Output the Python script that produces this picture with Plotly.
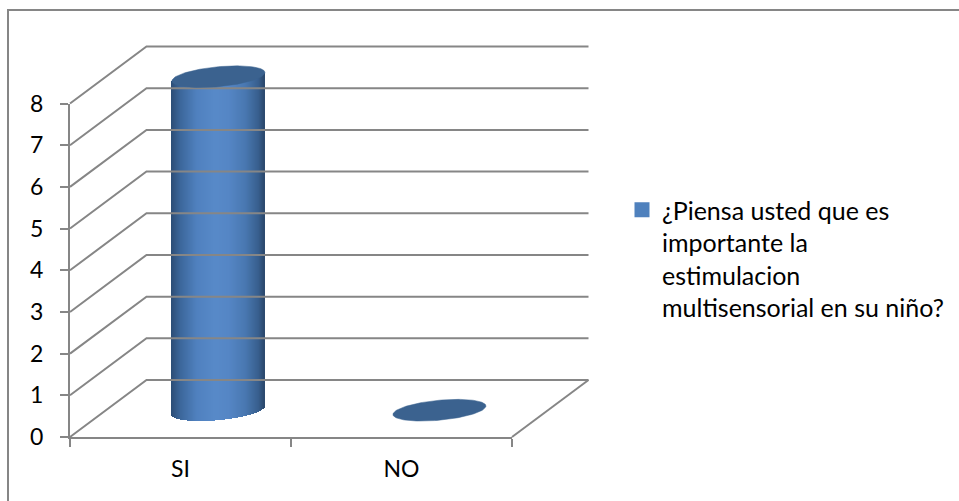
import numpy as np
import plotly.graph_objects as go

categories = ["SI", "NO"]
values = [8, 0]
y_ticks = [0, 1, 2, 3, 4, 5, 6, 7, 8]
series_name = ["¿Piensa usted que es", "importante la", "estimulacion", "multisensorial en su niño?"]

W, H = 959, 501
GRID = "#868686"
FONT = "Lato"
TEXT = "#000000"

# pixel layout of the front plane
L, R, T, B = 70, 512, 103.5, 437
ux = (R - L) / 2.0      # px per category
uy = (B - T) / 8.0      # px per value unit
depth_x = 76.5 / ux     # back-wall offset in axis units
depth_y = 57.0 / uy
col_depth = 0.47
col_dx = 0.009
half_w = 46.5 / ux
tilt = 4.2 / uy
minor = 10.0 / uy

# walls
wx, wy = [], []
for t in y_ticks:
    wx += [-0.5, -0.5 + depth_x, 1.5 + depth_x, None]
    wy += [t, t + depth_y, t + depth_y, None]
wx += [1.5, 1.5 + depth_x, None]
wy += [0, depth_y, None]

fig = go.Figure()
fig.add_trace(go.Bar(x=categories, y=values, xaxis="x", yaxis="y", marker=dict(opacity=0),
                     showlegend=False, hoverinfo="skip"))
fig.add_trace(go.Scatter(x=wx, y=wy, xaxis="x2", yaxis="y2", mode="lines",
                         line=dict(color=GRID, width=2), cliponaxis=False,
                         showlegend=False, hoverinfo="skip"))

stops_u = [-1.0, -0.8, -0.45, -0.05, 0.25, 0.6, 0.88, 1.0]
stops_r = [0x2c, 0x3c, 0x50, 0x58, 0x55, 0x49, 0x38, 0x2b]
stops_g = [0x4d, 0x67, 0x81, 0x8a, 0x86, 0x78, 0x5f, 0x48]
stops_b = [0x75, 0x9b, 0xbf, 0xc9, 0xc5, 0xb1, 0x8e, 0x6c]

t_par = np.linspace(0, 2 * np.pi, 121)
for i, v in enumerate(values):
    cx = i + col_depth * depth_x + col_dx
    y0 = col_depth * depth_y
    if v > 0:
        n = 93
        u = (np.arange(n) + 0.5) / n * 2 - 1
        sx = cx + u * half_w
        base = y0 + tilt * u - minor * np.sqrt(1 - u ** 2)
        top = y0 + v + tilt * u
        cols = ["rgb(%d,%d,%d)" % (np.interp(a, stops_u, stops_r),
                                   np.interp(a, stops_u, stops_g),
                                   np.interp(a, stops_u, stops_b)) for a in u]
        fig.add_trace(go.Bar(x=sx, y=top - base, base=base, width=2 * half_w / n * 1.15,
                             xaxis="x2", yaxis="y2", marker=dict(color=cols, line=dict(width=0)),
                             cliponaxis=False, showlegend=False, hoverinfo="skip"))
    ex = cx + half_w * np.cos(t_par)
    ey = y0 + v + tilt * np.cos(t_par) + minor * np.sin(t_par)
    fig.add_trace(go.Scatter(x=ex, y=ey, xaxis="x2", yaxis="y2", mode="lines", fill="toself",
                             fillcolor="#3b628f", line=dict(color="#3b628f", width=0.5),
                             cliponaxis=False, showlegend=False, hoverinfo="skip"))

# three blank lines above keep the swatch level with the first text line
legend_label = "<br>".join(["&nbsp;"] * 3 + series_name)
fig.add_trace(go.Scatter(x=[None], y=[None], xaxis="x2", yaxis="y2", mode="markers",
                         marker=dict(symbol="square", size=15, color="#4f81bd"),
                         name=legend_label, showlegend=True, hoverinfo="skip"))

xdom = [L / W, R / W]
ydom = [1 - B / H, 1 - T / H]
axis_common = dict(showline=True, linecolor=GRID, linewidth=2, ticks="outside", tickcolor=GRID,
                   tickwidth=2, ticklen=8, showgrid=False, zeroline=False,
                   tickfont=dict(family=FONT, size=23, color=TEXT))
fig.update_layout(
    width=W, height=H, margin=dict(l=0, r=0, t=0, b=0, autoexpand=False),
    paper_bgcolor="white", plot_bgcolor="rgba(0,0,0,0)", barmode="overlay", bargap=0,
    xaxis=dict(domain=xdom, anchor="y", type="category", categoryorder="array",
               categoryarray=categories, range=[-0.5, 1.5], tickson="boundaries",
               ticklabelstandoff=10, **axis_common),
    yaxis=dict(domain=ydom, anchor="x", range=[0, 8], tickvals=y_ticks, ticklabelstandoff=12,
               **axis_common),
    # full-frame scales so the 3-D depth can reach beyond the front plane
    xaxis2=dict(domain=[0, 1], anchor="y2", type="linear", visible=False,
                range=[-0.5 - L / ux, -0.5 + (W - L) / ux]),
    yaxis2=dict(domain=[0, 1], anchor="x2", type="linear", visible=False,
                range=[(B - H) / uy, B / uy]),
    legend=dict(x=622 / W, y=1 - 89.5 / H, xanchor="left", yanchor="top", bgcolor="rgba(0,0,0,0)",
                font=dict(family=FONT, size=25, color=TEXT), itemsizing="trace",
                itemwidth=30, borderwidth=0),
    shapes=[dict(type="rect", xref="paper", yref="paper", x0=8 / W, x1=1.1, y0=-0.1, y1=1 - 10 / H,
                 line=dict(color=GRID, width=2), fillcolor="rgba(0,0,0,0)", layer="below")],
)
fig.write_html("out.html", config={"displayModeBar": False},
               post_script="document.body.style.margin='0';document.body.style.overflow='hidden';")
